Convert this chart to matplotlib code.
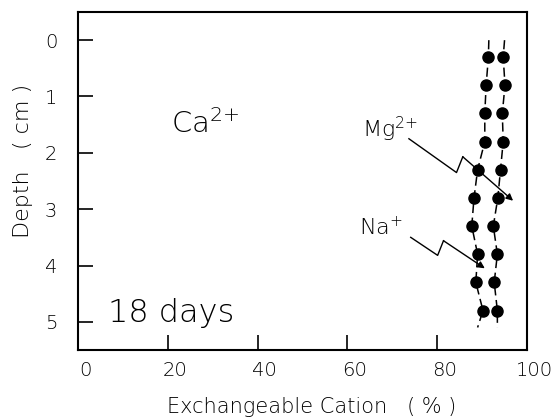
import numpy as np
import matplotlib
matplotlib.use('Agg')
import matplotlib.pyplot as plt
import matplotlib.transforms as mtrans

plt.rcParams['font.family'] = ['DejaVu Sans']
plt.rcParams['font.weight'] = 'light'
plt.rcParams['axes.labelweight'] = 'light'

# depth of the sampled layers (cm)
depth = [0.3, 0.8, 1.3, 1.8, 2.3, 2.8, 3.3, 3.8, 4.3, 4.8]
# cumulative exchangeable cation (%) : inner curve and outer curve
cum_inner = [91.4, 90.9, 90.6, 90.6, 89.0, 88.2, 87.7, 89.0, 88.6, 90.2]
cum_outer = [94.7, 95.1, 94.5, 94.7, 94.1, 93.5, 92.5, 93.4, 92.7, 93.4]
# where the dashed curves run out, above and below the points
end_depth = [0.0, 5.1]
inner_ends = [91.5, 89.0]
outer_ends = [95.0, 93.4]

xticks = [0, 20, 40, 60, 80, 100]
yticks = [0, 1, 2, 3, 4, 5]

# zigzag leader lines (x %, depth cm)
mg_leader_x = [73.7, 84.3, 85.7, 96.9]
mg_leader_y = [1.75, 2.35, 2.07, 2.85]
na_leader_x = [74.1, 80.1, 81.4, 90.6]
na_leader_y = [3.50, 3.82, 3.56, 4.05]

fig = plt.figure(figsize=(5.6, 4.19), dpi=100)
ax = fig.add_axes([78/560, 1-350/419, (527-78)/560, (350-12)/419])

for vals, ends in ((cum_inner, inner_ends), (cum_outer, outer_ends)):
	xs = [ends[0]] + vals + [ends[1]]
	ys = [end_depth[0]] + depth + [end_depth[1]]
	ax.plot(xs, ys, color='black', lw=1.1, ls=(0, (6, 3)))
	ax.plot(vals, depth, 'o', color='black', ms=8, ls='none')

# leaders with an arrow head on the last leg
for lx, ly in ((mg_leader_x, mg_leader_y), (na_leader_x, na_leader_y)):
	ax.plot(lx[:3], ly[:3], color='black', lw=1.0)
	ax.annotate('', xy=(lx[3], ly[3]), xytext=(lx[2], ly[2]),
		arrowprops=dict(arrowstyle='-|>', color='black', lw=1.0, mutation_scale=10, shrinkA=0, shrinkB=0))

ax.text(20.7, 1.65, 'Ca$^{\\mathregular{2{+}}}$', fontsize=21)
ax.text(63.3, 1.72, 'Mg$^{\\mathregular{2{+}}}$', fontsize=16)
ax.text(62.6, 3.46, 'Na$^{\\mathregular{{+}}}$', fontsize=16)
ax.text(6.6, 5.01, '18 days', fontsize=23)

ax.set_xlim(0, 100)
ax.set_ylim(5.5, -0.5)
ax.set_xticks(xticks)
ax.set_yticks(yticks)
ax.tick_params(direction='in', length=11, width=1.2, labelsize=14)
ax.tick_params(axis='y', pad=15)
ax.tick_params(axis='x', pad=8)
for s in ax.spines.values():
	s.set_linewidth(1.5)

# x tick labels sit a little right of their ticks in the original
shift = mtrans.ScaledTranslation(5/72, 0, fig.dpi_scale_trans)
for lab in ax.get_xticklabels():
	lab.set_transform(lab.get_transform() + shift)

ax.set_xlabel('Exchangeable Cation   ( % )', fontsize=15)
ax.xaxis.set_label_coords(0.52, -0.138)
ax.set_ylabel('Depth   ( cm )', fontsize=16)
ax.yaxis.set_label_coords(-0.1, 0.56)

fig.savefig('out.png', dpi=100)
